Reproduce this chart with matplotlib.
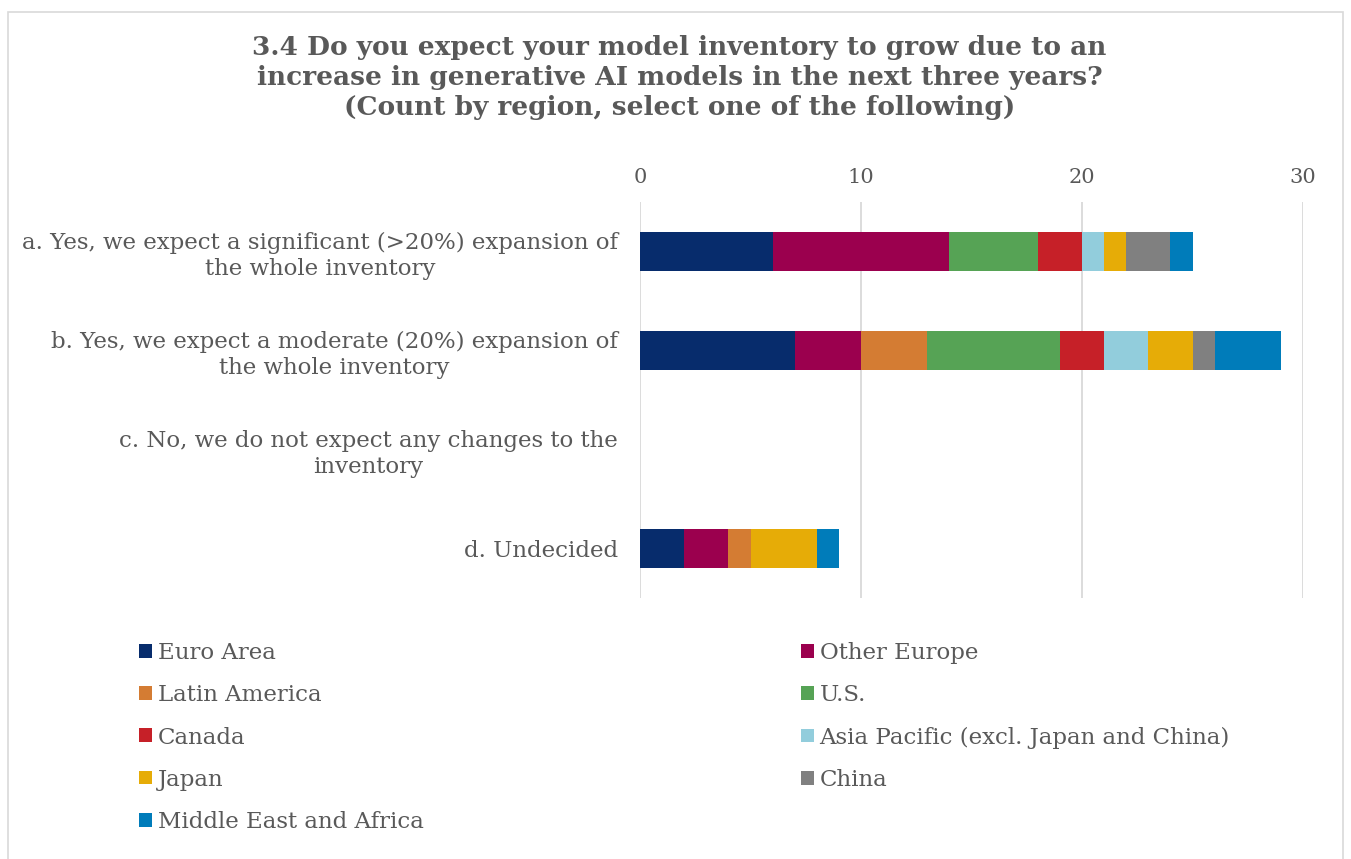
import matplotlib.pyplot as plt
from matplotlib.patches import Patch, Rectangle

plt.rcParams['font.family'] = ['DejaVu Serif']

categories = [
    "a. Yes, we expect a significant (>20%) expansion of\nthe whole inventory",
    "b. Yes, we expect a moderate (20%) expansion of\nthe whole inventory",
    "c. No, we do not expect any changes to the\ninventory",
    "d. Undecided",
]
regions = ["Euro Area", "Other Europe", "Latin America", "U.S.", "Canada",
           "Asia Pacific (excl. Japan and China)", "Japan", "China",
           "Middle East and Africa"]
# counts per region, one value per category (a, b, c, d)
euro_area = [6, 7, 0, 2]
other_europe = [8, 3, 0, 2]
latin_america = [0, 3, 0, 1]
us = [4, 6, 0, 0]
canada = [2, 2, 0, 0]
asia_pacific = [1, 2, 0, 0]
japan = [1, 2, 0, 3]
china = [2, 1, 0, 0]
middle_east_africa = [1, 3, 0, 1]
series = [euro_area, other_europe, latin_america, us, canada,
          asia_pacific, japan, china, middle_east_africa]

colors = ['#072C6C', '#9B004E', '#D47C33', '#56A355', '#C62028',
          '#92CDDC', '#E6AC07', '#808080', '#007CBA']
text_col = '#595959'

fig = plt.figure(figsize=(13.51, 8.59), dpi=100)
ax = fig.add_axes([640/1351, 1-598/859, (1303-640)/1351, (598-202)/859])

y = list(range(len(categories)))
left = [0]*len(categories)
for vals, col, name in zip(series, colors, regions):
    ax.barh(y, vals, left=left, height=0.4, color=col, label=name, zorder=3)
    left = [l+v for l, v in zip(left, vals)]

ax.set_ylim(3.5, -0.5)
ax.set_xlim(0, 30)
ax.set_xticks([0, 10, 20, 30])
ax.xaxis.tick_top()
ax.tick_params(axis='x', length=0, pad=11, labelsize=15, labelcolor=text_col)
ax.tick_params(axis='y', length=0, pad=16, labelsize=16.5, labelcolor=text_col)
ax.set_yticks(y)
ax.set_yticklabels(categories, multialignment='center', linespacing=1.25)
ax.grid(axis='x', color='#D9D9D9', linewidth=1.3, zorder=0)
for s in ax.spines.values():
    s.set_visible(False)

fig.text(0.503, 1-35/859,
         "3.4 Do you expect your model inventory to grow due to an\n"
         "increase in generative AI models in the next three years?\n"
         "(Count by region, select one of the following)",
         ha='center', va='top', fontsize=19, fontweight='bold',
         color=text_col, linespacing=1.26)

handles = [Patch(facecolor=c, label=r) for c, r in zip(colors, regions)]
col1 = handles[0::2]
col2 = handles[1::2]
leg_kw = dict(frameon=False, fontsize=16.5, labelcolor=text_col, handlelength=0.55,
              handleheight=0.55, handletextpad=0.25, labelspacing=0.88,
              loc='upper left', borderaxespad=0)
fig.legend(handles=col1, bbox_to_anchor=(130/1351, 1-633/859), **leg_kw)
fig.legend(handles=col2, bbox_to_anchor=(792/1351, 1-633/859), **leg_kw)

fig.patches.append(Rectangle((8/1351, -0.01), 1335/1351, 1-12/859+0.01,
                             transform=fig.transFigure, fill=False,
                             edgecolor='#D9D9D9', linewidth=1.2))

fig.savefig('out.png', dpi=100)
